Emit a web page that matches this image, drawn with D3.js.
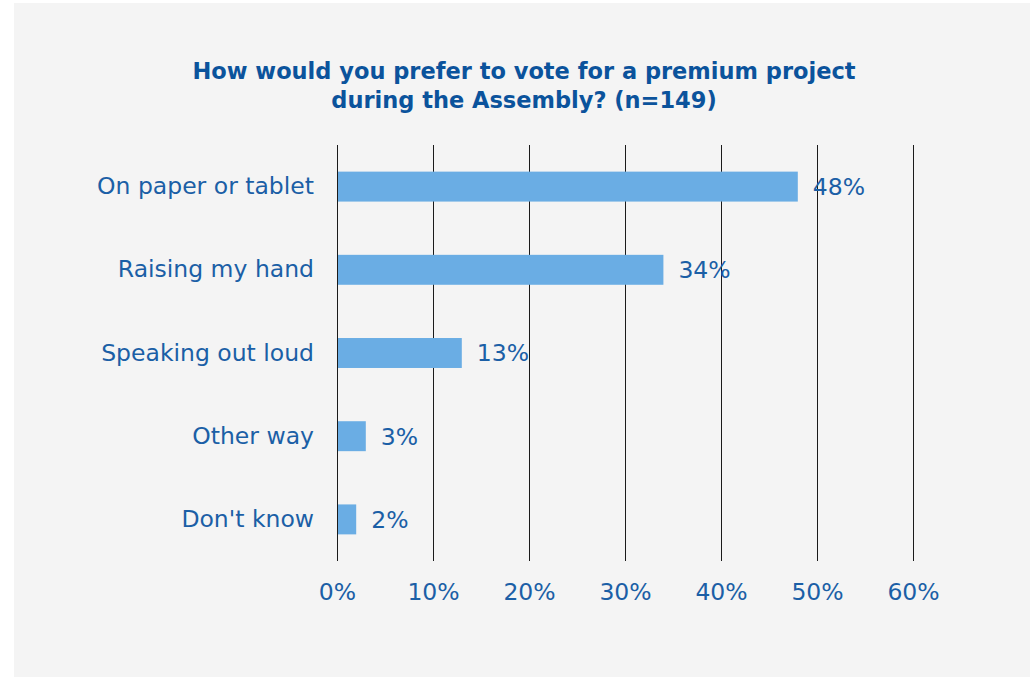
<!DOCTYPE html>
<html>
<head>
<meta charset="utf-8">
<script src="https://cdn.jsdelivr.net/npm/d3@7"></script>
<style>
  html, body { margin: 0; padding: 0; background: #ffffff; }
  svg { display: block; }
</style>
</head>
<body>
<svg id="chart" width="1030" height="677"></svg>
<script>
// Survey answers and their shares (percent)
const categories = ["On paper or tablet", "Raising my hand", "Speaking out loud", "Other way", "Don't know"];
const values = [48, 34, 13, 3, 2];
const tickValues = [0, 10, 20, 30, 40, 50, 60];
const titleLines = ["How would you prefer to vote for a premium project", "during the Assembly? (n=149)"];

const svg = d3.select("#chart");
const font = "'DejaVu Sans', Verdana, sans-serif";
const textBlue = "#1b5fa6";
const titleBlue = "#0b539c";
const barColor = "#6aade4";
const labelSize = 23.5;

// panel background
svg.append("rect")
  .attr("x", 14).attr("y", 3)
  .attr("width", 1016).attr("height", 674)
  .attr("fill", "#f4f4f4");

// title
svg.append("g").selectAll("text")
  .data(titleLines)
  .join("text")
  .attr("x", 524)
  .attr("y", (d, i) => 79 + i * 29)
  .attr("text-anchor", "middle")
  .attr("font-family", font)
  .attr("font-weight", "bold")
  .attr("font-size", 22.5)
  .attr("fill", titleBlue)
  .text(d => d);

const plot = { left: 337, right: 913, top: 145, bottom: 561 };

const x = d3.scaleLinear().domain([0, 60]).range([plot.left, plot.right]);
const y = d3.scaleBand().domain(categories).range([plot.top, plot.bottom]).paddingInner(0.64).paddingOuter(0.32);

// vertical gridlines
svg.append("g").selectAll("line")
  .data(tickValues)
  .join("line")
  .attr("x1", d => Math.round(x(d)) + 0.5)
  .attr("x2", d => Math.round(x(d)) + 0.5)
  .attr("y1", plot.top)
  .attr("y2", plot.bottom)
  .attr("stroke", "#1a1a1a")
  .attr("stroke-width", 1);

// bars
svg.append("g").selectAll("rect")
  .data(values)
  .join("rect")
  .attr("x", x(0) + 1)
  .attr("y", (d, i) => y(categories[i]))
  .attr("width", d => x(d) - x(0) - 1)
  .attr("height", y.bandwidth())
  .attr("fill", barColor);

// value labels
svg.append("g").selectAll("text")
  .data(values)
  .join("text")
  .attr("x", d => x(d) + 15)
  .attr("y", (d, i) => y(categories[i]) + y.bandwidth() / 2)
  .attr("dy", "0.36em")
  .attr("font-family", font)
  .attr("font-size", labelSize)
  .attr("fill", textBlue)
  .text(d => d + "%");

// category axis labels
const yAxis = d3.axisLeft(y).tickSize(0).tickPadding(23);
const yg = svg.append("g").attr("transform", `translate(${plot.left},0)`).call(yAxis);
yg.select(".domain").remove();
yg.selectAll("text")
  .attr("font-family", font)
  .attr("font-size", labelSize)
  .attr("fill", textBlue);

// percentage axis labels
const xAxis = d3.axisBottom(x).tickValues(tickValues).tickSize(0).tickPadding(22).tickFormat(d => d + "%");
const xg = svg.append("g").attr("transform", `translate(0,${plot.bottom})`).call(xAxis);
xg.select(".domain").remove();
xg.selectAll("text")
  .attr("font-family", font)
  .attr("font-size", labelSize)
  .attr("fill", textBlue);
</script>
</body>
</html>
